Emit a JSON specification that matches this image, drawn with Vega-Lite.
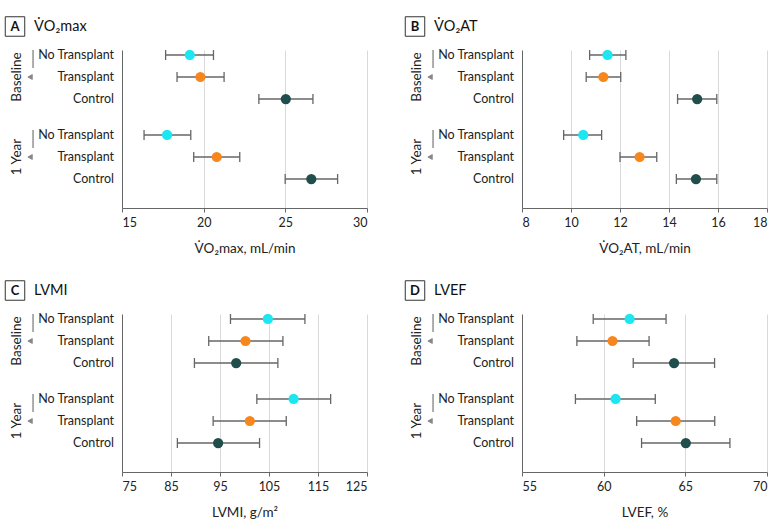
{
  "$schema": "https://vega.github.io/schema/vega-lite/v6.json",
  "padding": {"left": 3, "top": 14, "right": 3, "bottom": 5},
  "config": {
    "font": "Lato",
    "view": {"stroke": null},
    "axis": {"labelFont": "Lato", "labelFontSize": 12.5, "labelColor": "#222", "titleFont": "Lato", "titleFontSize": 13.5, "titleFontWeight": "normal", "titleColor": "#222", "domainColor": "#666", "tickColor": "#666", "gridColor": "#d9d9d9"},
    "axisX": {"labelPadding": 4, "titlePadding": 13}
  },
  "datasets": {
    "d": [
      {"measure": "VO2max", "group": "Baseline", "cond": "No Transplant", "mean": 19.15, "lo": 17.67, "hi": 20.6},
      {"measure": "VO2max", "group": "Baseline", "cond": "Transplant", "mean": 19.8, "lo": 18.37, "hi": 21.25},
      {"measure": "VO2max", "group": "Baseline", "cond": "Control", "mean": 25.03, "lo": 23.38, "hi": 26.69},
      {"measure": "VO2max", "group": "1 Year", "cond": "No Transplant", "mean": 17.76, "lo": 16.35, "hi": 19.21},
      {"measure": "VO2max", "group": "1 Year", "cond": "Transplant", "mean": 20.8, "lo": 19.39, "hi": 22.21},
      {"measure": "VO2max", "group": "1 Year", "cond": "Control", "mean": 26.59, "lo": 24.99, "hi": 28.2},
      {"measure": "VO2AT", "group": "Baseline", "cond": "No Transplant", "mean": 11.49, "lo": 10.76, "hi": 12.24},
      {"measure": "VO2AT", "group": "Baseline", "cond": "Transplant", "mean": 11.32, "lo": 10.62, "hi": 12.03},
      {"measure": "VO2AT", "group": "Baseline", "cond": "Control", "mean": 15.15, "lo": 14.35, "hi": 15.95},
      {"measure": "VO2AT", "group": "1 Year", "cond": "No Transplant", "mean": 10.5, "lo": 9.7, "hi": 11.25},
      {"measure": "VO2AT", "group": "1 Year", "cond": "Transplant", "mean": 12.8, "lo": 12.0, "hi": 13.5},
      {"measure": "VO2AT", "group": "1 Year", "cond": "Control", "mean": 15.1, "lo": 14.3, "hi": 15.95},
      {"measure": "LVMI", "group": "Baseline", "cond": "No Transplant", "mean": 104.77, "lo": 97.14, "hi": 112.33},
      {"measure": "LVMI", "group": "Baseline", "cond": "Transplant", "mean": 100.2, "lo": 92.7, "hi": 107.84},
      {"measure": "LVMI", "group": "Baseline", "cond": "Control", "mean": 98.3, "lo": 89.78, "hi": 106.81},
      {"measure": "LVMI", "group": "1 Year", "cond": "No Transplant", "mean": 110.02, "lo": 102.52, "hi": 117.58},
      {"measure": "LVMI", "group": "1 Year", "cond": "Transplant", "mean": 101.09, "lo": 93.6, "hi": 108.52},
      {"measure": "LVMI", "group": "1 Year", "cond": "Control", "mean": 94.62, "lo": 86.3, "hi": 103.07},
      {"measure": "LVEF", "group": "Baseline", "cond": "No Transplant", "mean": 61.59, "lo": 59.36, "hi": 63.82},
      {"measure": "LVEF", "group": "Baseline", "cond": "Transplant", "mean": 60.54, "lo": 58.36, "hi": 62.78},
      {"measure": "LVEF", "group": "Baseline", "cond": "Control", "mean": 64.31, "lo": 61.81, "hi": 66.79},
      {"measure": "LVEF", "group": "1 Year", "cond": "No Transplant", "mean": 60.73, "lo": 58.27, "hi": 63.16},
      {"measure": "LVEF", "group": "1 Year", "cond": "Transplant", "mean": 64.41, "lo": 62.02, "hi": 66.8},
      {"measure": "LVEF", "group": "1 Year", "cond": "Control", "mean": 65.03, "lo": 62.32, "hi": 67.73}
    ]
  },
  "spacing": 23,
  "vconcat": [
    {
      "spacing": 35,
      "hconcat": [
        {
          "width": 245, "height": 158,
          "data": {"name": "d"},
          "transform": [{"filter": "datum.measure === 'VO2max'"}],
          "encoding": {
            "x": {"field": "mean", "type": "quantitative", "scale": {"domain": [15, 30], "nice": false, "zero": false}, "axis": {"values": [15, 20, 25, 30], "grid": true, "tickSize": 4, "title": "V\u0307O\u2082max, mL/min"}},
            "y": {"field": "group", "type": "nominal", "scale": {"type": "band", "domain": ["Baseline", "1 Year"], "paddingInner": 0.325, "paddingOuter": 0.15, "align": 0}, "axis": {"title": null, "ticks": false, "labelAngle": 270, "labelAlign": "center", "labelBaseline": "bottom", "labelPadding": 99, "labelFontSize": 13.5, "domain": true}}
          },
          "layer": [
            {"mark": {"type": "rect", "color": "#a8a8a8", "xOffset": -89.5, "x2Offset": -88}, "encoding": {"x": {"datum": 15}, "x2": {"datum": 15}}},
            {"mark": {"type": "point", "shape": "triangle-left", "filled": true, "size": 30, "color": "#888", "opacity": 1, "xOffset": -92}, "encoding": {"x": {"datum": 15}}},
            {"mark": {"type": "rule", "color": "#666", "strokeWidth": 1.3}, "encoding": {"x": {"field": "lo", "type": "quantitative"}, "x2": {"field": "hi"}, "yOffset": {"field": "cond", "type": "nominal", "scale": {"type": "point", "padding": 0.227, "domain": ["No Transplant", "Transplant", "Control"]}}}},
            {"mark": {"type": "tick", "orient": "vertical", "size": 10, "thickness": 1.3, "color": "#666", "opacity": 1}, "encoding": {"x": {"field": "lo", "type": "quantitative"}, "yOffset": {"field": "cond", "type": "nominal"}}},
            {"mark": {"type": "tick", "orient": "vertical", "size": 10, "thickness": 1.3, "color": "#666", "opacity": 1}, "encoding": {"x": {"field": "hi", "type": "quantitative"}, "yOffset": {"field": "cond", "type": "nominal"}}},
            {"mark": {"type": "point", "filled": true, "size": 105, "opacity": 1}, "encoding": {"yOffset": {"field": "cond", "type": "nominal"}, "color": {"field": "cond", "type": "nominal", "scale": {"domain": ["No Transplant", "Transplant", "Control"], "range": ["#1ce6f2", "#f7861c", "#1f4e4c"]}, "legend": null}}},
            {"mark": {"type": "text", "align": "right", "baseline": "middle", "dx": -8, "fontSize": 12.5, "color": "#222"}, "encoding": {"x": {"datum": 15}, "text": {"field": "cond"}, "yOffset": {"field": "cond", "type": "nominal"}}},
            {"transform": [{"filter": "datum.group === 'Baseline' && datum.cond === 'No Transplant'"}], "mark": {"type": "point", "shape": "square", "filled": false, "stroke": "#333", "strokeWidth": 1, "size": 380, "opacity": 1, "xOffset": -107, "yOffset": -50.5}, "encoding": {"x": {"datum": 15}}},
            {"transform": [{"filter": "datum.group === 'Baseline' && datum.cond === 'No Transplant'"}], "mark": {"type": "text", "text": "A", "fontWeight": "bold", "fontSize": 13, "align": "center", "baseline": "middle", "color": "#111", "xOffset": -107, "yOffset": -50.5}, "encoding": {"x": {"datum": 15}}},
            {"transform": [{"filter": "datum.group === 'Baseline' && datum.cond === 'No Transplant'"}], "mark": {"type": "text", "text": "V\u0307O\u2082max", "fontSize": 14.5, "align": "left", "baseline": "middle", "color": "#111", "xOffset": -88, "yOffset": -50.5}, "encoding": {"x": {"datum": 15}}}
          ]
        },
        {
          "width": 245, "height": 158,
          "data": {"name": "d"},
          "transform": [{"filter": "datum.measure === 'VO2AT'"}],
          "encoding": {
            "x": {"field": "mean", "type": "quantitative", "scale": {"domain": [8, 18], "nice": false, "zero": false}, "axis": {"values": [8, 10, 12, 14, 16, 18], "grid": true, "tickSize": 4, "title": "V\u0307O\u2082AT, mL/min"}},
            "y": {"field": "group", "type": "nominal", "scale": {"type": "band", "domain": ["Baseline", "1 Year"], "paddingInner": 0.325, "paddingOuter": 0.15, "align": 0}, "axis": {"title": null, "ticks": false, "labelAngle": 270, "labelAlign": "center", "labelBaseline": "bottom", "labelPadding": 99, "labelFontSize": 13.5, "domain": true}}
          },
          "layer": [
            {"mark": {"type": "rect", "color": "#a8a8a8", "xOffset": -89.5, "x2Offset": -88}, "encoding": {"x": {"datum": 8}, "x2": {"datum": 8}}},
            {"mark": {"type": "point", "shape": "triangle-left", "filled": true, "size": 30, "color": "#888", "opacity": 1, "xOffset": -92}, "encoding": {"x": {"datum": 8}}},
            {"mark": {"type": "rule", "color": "#666", "strokeWidth": 1.3}, "encoding": {"x": {"field": "lo", "type": "quantitative"}, "x2": {"field": "hi"}, "yOffset": {"field": "cond", "type": "nominal", "scale": {"type": "point", "padding": 0.227, "domain": ["No Transplant", "Transplant", "Control"]}}}},
            {"mark": {"type": "tick", "orient": "vertical", "size": 10, "thickness": 1.3, "color": "#666", "opacity": 1}, "encoding": {"x": {"field": "lo", "type": "quantitative"}, "yOffset": {"field": "cond", "type": "nominal"}}},
            {"mark": {"type": "tick", "orient": "vertical", "size": 10, "thickness": 1.3, "color": "#666", "opacity": 1}, "encoding": {"x": {"field": "hi", "type": "quantitative"}, "yOffset": {"field": "cond", "type": "nominal"}}},
            {"mark": {"type": "point", "filled": true, "size": 105, "opacity": 1}, "encoding": {"yOffset": {"field": "cond", "type": "nominal"}, "color": {"field": "cond", "type": "nominal", "scale": {"domain": ["No Transplant", "Transplant", "Control"], "range": ["#1ce6f2", "#f7861c", "#1f4e4c"]}, "legend": null}}},
            {"mark": {"type": "text", "align": "right", "baseline": "middle", "dx": -8, "fontSize": 12.5, "color": "#222"}, "encoding": {"x": {"datum": 8}, "text": {"field": "cond"}, "yOffset": {"field": "cond", "type": "nominal"}}},
            {"transform": [{"filter": "datum.group === 'Baseline' && datum.cond === 'No Transplant'"}], "mark": {"type": "point", "shape": "square", "filled": false, "stroke": "#333", "strokeWidth": 1, "size": 380, "opacity": 1, "xOffset": -107, "yOffset": -50.5}, "encoding": {"x": {"datum": 8}}},
            {"transform": [{"filter": "datum.group === 'Baseline' && datum.cond === 'No Transplant'"}], "mark": {"type": "text", "text": "B", "fontWeight": "bold", "fontSize": 13, "align": "center", "baseline": "middle", "color": "#111", "xOffset": -107, "yOffset": -50.5}, "encoding": {"x": {"datum": 8}}},
            {"transform": [{"filter": "datum.group === 'Baseline' && datum.cond === 'No Transplant'"}], "mark": {"type": "text", "text": "V\u0307O\u2082AT", "fontSize": 14.5, "align": "left", "baseline": "middle", "color": "#111", "xOffset": -88, "yOffset": -50.5}, "encoding": {"x": {"datum": 8}}}
          ]
        }
      ]
    },
    {
      "spacing": 35,
      "hconcat": [
        {
          "width": 245, "height": 158,
          "data": {"name": "d"},
          "transform": [{"filter": "datum.measure === 'LVMI'"}],
          "encoding": {
            "x": {"field": "mean", "type": "quantitative", "scale": {"domain": [75, 125], "nice": false, "zero": false}, "axis": {"values": [75, 85, 95, 105, 115, 125], "grid": true, "tickSize": 4, "title": "LVMI, g/m\u00b2"}},
            "y": {"field": "group", "type": "nominal", "scale": {"type": "band", "domain": ["Baseline", "1 Year"], "paddingInner": 0.325, "paddingOuter": 0.15, "align": 0}, "axis": {"title": null, "ticks": false, "labelAngle": 270, "labelAlign": "center", "labelBaseline": "bottom", "labelPadding": 99, "labelFontSize": 13.5, "domain": true}}
          },
          "layer": [
            {"mark": {"type": "rect", "color": "#a8a8a8", "xOffset": -89.5, "x2Offset": -88}, "encoding": {"x": {"datum": 75}, "x2": {"datum": 75}}},
            {"mark": {"type": "point", "shape": "triangle-left", "filled": true, "size": 30, "color": "#888", "opacity": 1, "xOffset": -92}, "encoding": {"x": {"datum": 75}}},
            {"mark": {"type": "rule", "color": "#666", "strokeWidth": 1.3}, "encoding": {"x": {"field": "lo", "type": "quantitative"}, "x2": {"field": "hi"}, "yOffset": {"field": "cond", "type": "nominal", "scale": {"type": "point", "padding": 0.227, "domain": ["No Transplant", "Transplant", "Control"]}}}},
            {"mark": {"type": "tick", "orient": "vertical", "size": 10, "thickness": 1.3, "color": "#666", "opacity": 1}, "encoding": {"x": {"field": "lo", "type": "quantitative"}, "yOffset": {"field": "cond", "type": "nominal"}}},
            {"mark": {"type": "tick", "orient": "vertical", "size": 10, "thickness": 1.3, "color": "#666", "opacity": 1}, "encoding": {"x": {"field": "hi", "type": "quantitative"}, "yOffset": {"field": "cond", "type": "nominal"}}},
            {"mark": {"type": "point", "filled": true, "size": 105, "opacity": 1}, "encoding": {"yOffset": {"field": "cond", "type": "nominal"}, "color": {"field": "cond", "type": "nominal", "scale": {"domain": ["No Transplant", "Transplant", "Control"], "range": ["#1ce6f2", "#f7861c", "#1f4e4c"]}, "legend": null}}},
            {"mark": {"type": "text", "align": "right", "baseline": "middle", "dx": -8, "fontSize": 12.5, "color": "#222"}, "encoding": {"x": {"datum": 75}, "text": {"field": "cond"}, "yOffset": {"field": "cond", "type": "nominal"}}},
            {"transform": [{"filter": "datum.group === 'Baseline' && datum.cond === 'No Transplant'"}], "mark": {"type": "point", "shape": "square", "filled": false, "stroke": "#333", "strokeWidth": 1, "size": 380, "opacity": 1, "xOffset": -107, "yOffset": -50.5}, "encoding": {"x": {"datum": 75}}},
            {"transform": [{"filter": "datum.group === 'Baseline' && datum.cond === 'No Transplant'"}], "mark": {"type": "text", "text": "C", "fontWeight": "bold", "fontSize": 13, "align": "center", "baseline": "middle", "color": "#111", "xOffset": -107, "yOffset": -50.5}, "encoding": {"x": {"datum": 75}}},
            {"transform": [{"filter": "datum.group === 'Baseline' && datum.cond === 'No Transplant'"}], "mark": {"type": "text", "text": "LVMI", "fontSize": 14.5, "align": "left", "baseline": "middle", "color": "#111", "xOffset": -88, "yOffset": -50.5}, "encoding": {"x": {"datum": 75}}}
          ]
        },
        {
          "width": 245, "height": 158,
          "data": {"name": "d"},
          "transform": [{"filter": "datum.measure === 'LVEF'"}],
          "encoding": {
            "x": {"field": "mean", "type": "quantitative", "scale": {"domain": [55, 70], "nice": false, "zero": false}, "axis": {"values": [55, 60, 65, 70], "grid": true, "tickSize": 4, "title": "LVEF, %"}},
            "y": {"field": "group", "type": "nominal", "scale": {"type": "band", "domain": ["Baseline", "1 Year"], "paddingInner": 0.325, "paddingOuter": 0.15, "align": 0}, "axis": {"title": null, "ticks": false, "labelAngle": 270, "labelAlign": "center", "labelBaseline": "bottom", "labelPadding": 99, "labelFontSize": 13.5, "domain": true}}
          },
          "layer": [
            {"mark": {"type": "rect", "color": "#a8a8a8", "xOffset": -89.5, "x2Offset": -88}, "encoding": {"x": {"datum": 55}, "x2": {"datum": 55}}},
            {"mark": {"type": "point", "shape": "triangle-left", "filled": true, "size": 30, "color": "#888", "opacity": 1, "xOffset": -92}, "encoding": {"x": {"datum": 55}}},
            {"mark": {"type": "rule", "color": "#666", "strokeWidth": 1.3}, "encoding": {"x": {"field": "lo", "type": "quantitative"}, "x2": {"field": "hi"}, "yOffset": {"field": "cond", "type": "nominal", "scale": {"type": "point", "padding": 0.227, "domain": ["No Transplant", "Transplant", "Control"]}}}},
            {"mark": {"type": "tick", "orient": "vertical", "size": 10, "thickness": 1.3, "color": "#666", "opacity": 1}, "encoding": {"x": {"field": "lo", "type": "quantitative"}, "yOffset": {"field": "cond", "type": "nominal"}}},
            {"mark": {"type": "tick", "orient": "vertical", "size": 10, "thickness": 1.3, "color": "#666", "opacity": 1}, "encoding": {"x": {"field": "hi", "type": "quantitative"}, "yOffset": {"field": "cond", "type": "nominal"}}},
            {"mark": {"type": "point", "filled": true, "size": 105, "opacity": 1}, "encoding": {"yOffset": {"field": "cond", "type": "nominal"}, "color": {"field": "cond", "type": "nominal", "scale": {"domain": ["No Transplant", "Transplant", "Control"], "range": ["#1ce6f2", "#f7861c", "#1f4e4c"]}, "legend": null}}},
            {"mark": {"type": "text", "align": "right", "baseline": "middle", "dx": -8, "fontSize": 12.5, "color": "#222"}, "encoding": {"x": {"datum": 55}, "text": {"field": "cond"}, "yOffset": {"field": "cond", "type": "nominal"}}},
            {"transform": [{"filter": "datum.group === 'Baseline' && datum.cond === 'No Transplant'"}], "mark": {"type": "point", "shape": "square", "filled": false, "stroke": "#333", "strokeWidth": 1, "size": 380, "opacity": 1, "xOffset": -107, "yOffset": -50.5}, "encoding": {"x": {"datum": 55}}},
            {"transform": [{"filter": "datum.group === 'Baseline' && datum.cond === 'No Transplant'"}], "mark": {"type": "text", "text": "D", "fontWeight": "bold", "fontSize": 13, "align": "center", "baseline": "middle", "color": "#111", "xOffset": -107, "yOffset": -50.5}, "encoding": {"x": {"datum": 55}}},
            {"transform": [{"filter": "datum.group === 'Baseline' && datum.cond === 'No Transplant'"}], "mark": {"type": "text", "text": "LVEF", "fontSize": 14.5, "align": "left", "baseline": "middle", "color": "#111", "xOffset": -88, "yOffset": -50.5}, "encoding": {"x": {"datum": 55}}}
          ]
        }
      ]
    }
  ]
}
